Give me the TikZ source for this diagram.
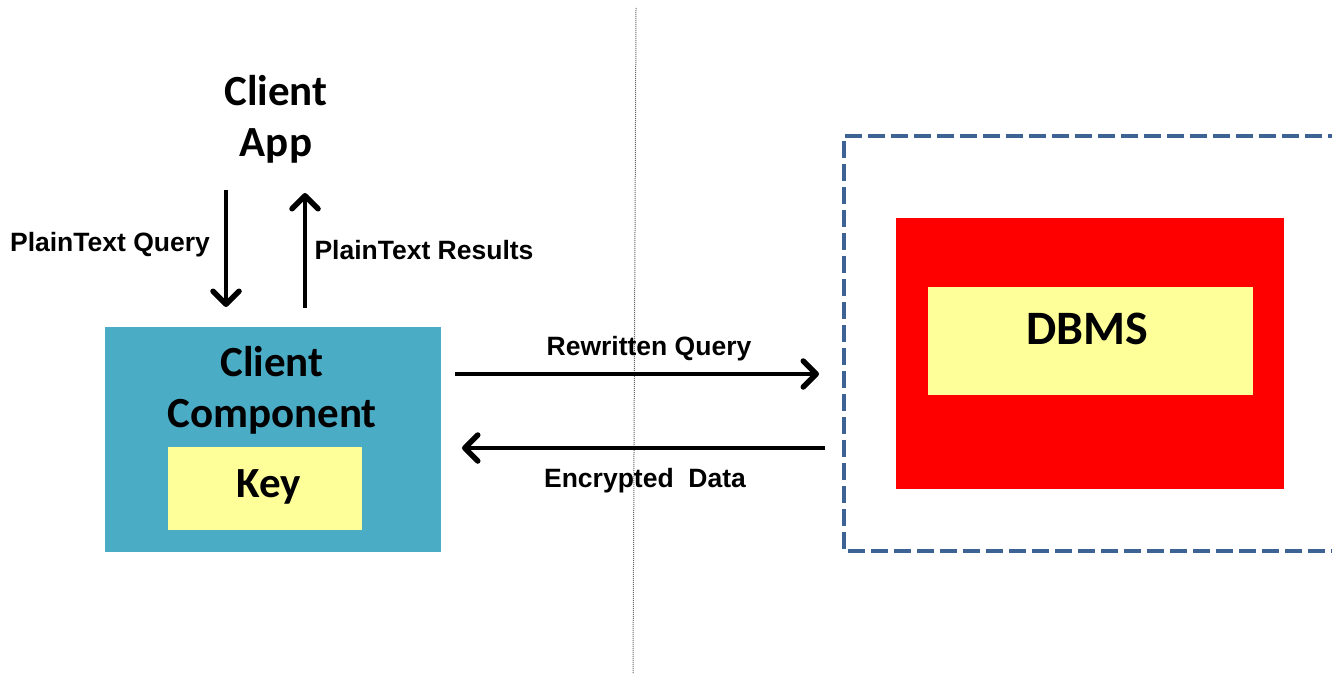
\documentclass[tikz,border=0pt]{standalone}
\usepackage{fontspec}
\setmainfont{Liberation Sans}
\newfontfamily\calib{Carlito}
\usetikzlibrary{arrows.meta}
\definecolor{teal1}{HTML}{4BACC6}
\definecolor{lyellow}{HTML}{FFFF99}
\definecolor{dashblue}{HTML}{3D6294}
\begin{document}
\begin{tikzpicture}[x=1pt,y=-1pt,
  big/.style={font=\calib\bfseries\fontsize{43}{51}\selectfont, align=center, inner sep=0pt},
  lbl/.style={font=\bfseries\fontsize{26.5}{30}\selectfont, inner sep=0pt},
  flow/.style={line width=4pt, -{Straight Barb[round,length=13pt,width=26pt,line width=5.5pt 0]}},
  box/.style={draw=none, inner sep=0pt}
]
\useasboundingbox (0,0) rectangle (1332,674);
\clip (0,0) rectangle (1332,674);
\fill[white] (0,0) rectangle (1332,674);
% divider
\coordinate (dtop) at (636,8);
\coordinate (dbot) at (633,674);
\draw[gray!80!black, line width=1pt, dash pattern=on 1pt off 1pt] (dtop) -- (dbot);
% server dashed box
\draw[dashblue, line width=4pt, dash pattern=on 17pt off 6pt] (1345,136) -- (844,136) -- (844,551) -- (1345,551);
% red box and DBMS
\node[box, fill=red, minimum width=388pt, minimum height=271pt] (server) at (1090,353.5) {};
\node[box, fill=lyellow, minimum width=325pt, minimum height=108pt] (dbms) at (1090.5,341) {};
\node[big, font=\calib\bfseries\fontsize{48}{56}\selectfont] (dbmstext) at (1087,329) {DBMS};
% client component
\node[box, fill=teal1, minimum width=336pt, minimum height=225pt] (cc) at (273,439.5) {};
\node[big] (cctext) at (272,390.5) {Client\\Component};
\node[box, fill=lyellow, minimum width=194pt, minimum height=83pt] (key) at (265,488.5) {};
\node[big] (keytext) at (269,487) {Key};
% client app
\node[big] (app) at (276,119) {Client\\App};
% vertical arrows
\coordinate (q1) at (226,190);
\coordinate (q2) at (226,307);
\coordinate (r1) at (305,308);
\coordinate (r2) at (305,193);
\draw[flow] (q1) -- (q2);
\draw[flow] (r1) -- (r2);
\node[lbl] (lq) at (110,245) {PlainText Query};
\node[lbl] (lr) at (424,250) {PlainText Results};
% horizontal arrows
\coordinate (w1) at (455,374);
\coordinate (w2) at (819,374);
\coordinate (e1) at (825,448);
\coordinate (e2) at (462,448);
\draw[flow] (w1) -- (w2);
\draw[flow] (e1) -- (e2);
\node[lbl] (lw) at (649,349) {Rewritten Query};
\node[lbl] (le) at (645,481) {Encrypted\ \ Data};
\end{tikzpicture}
\end{document}
